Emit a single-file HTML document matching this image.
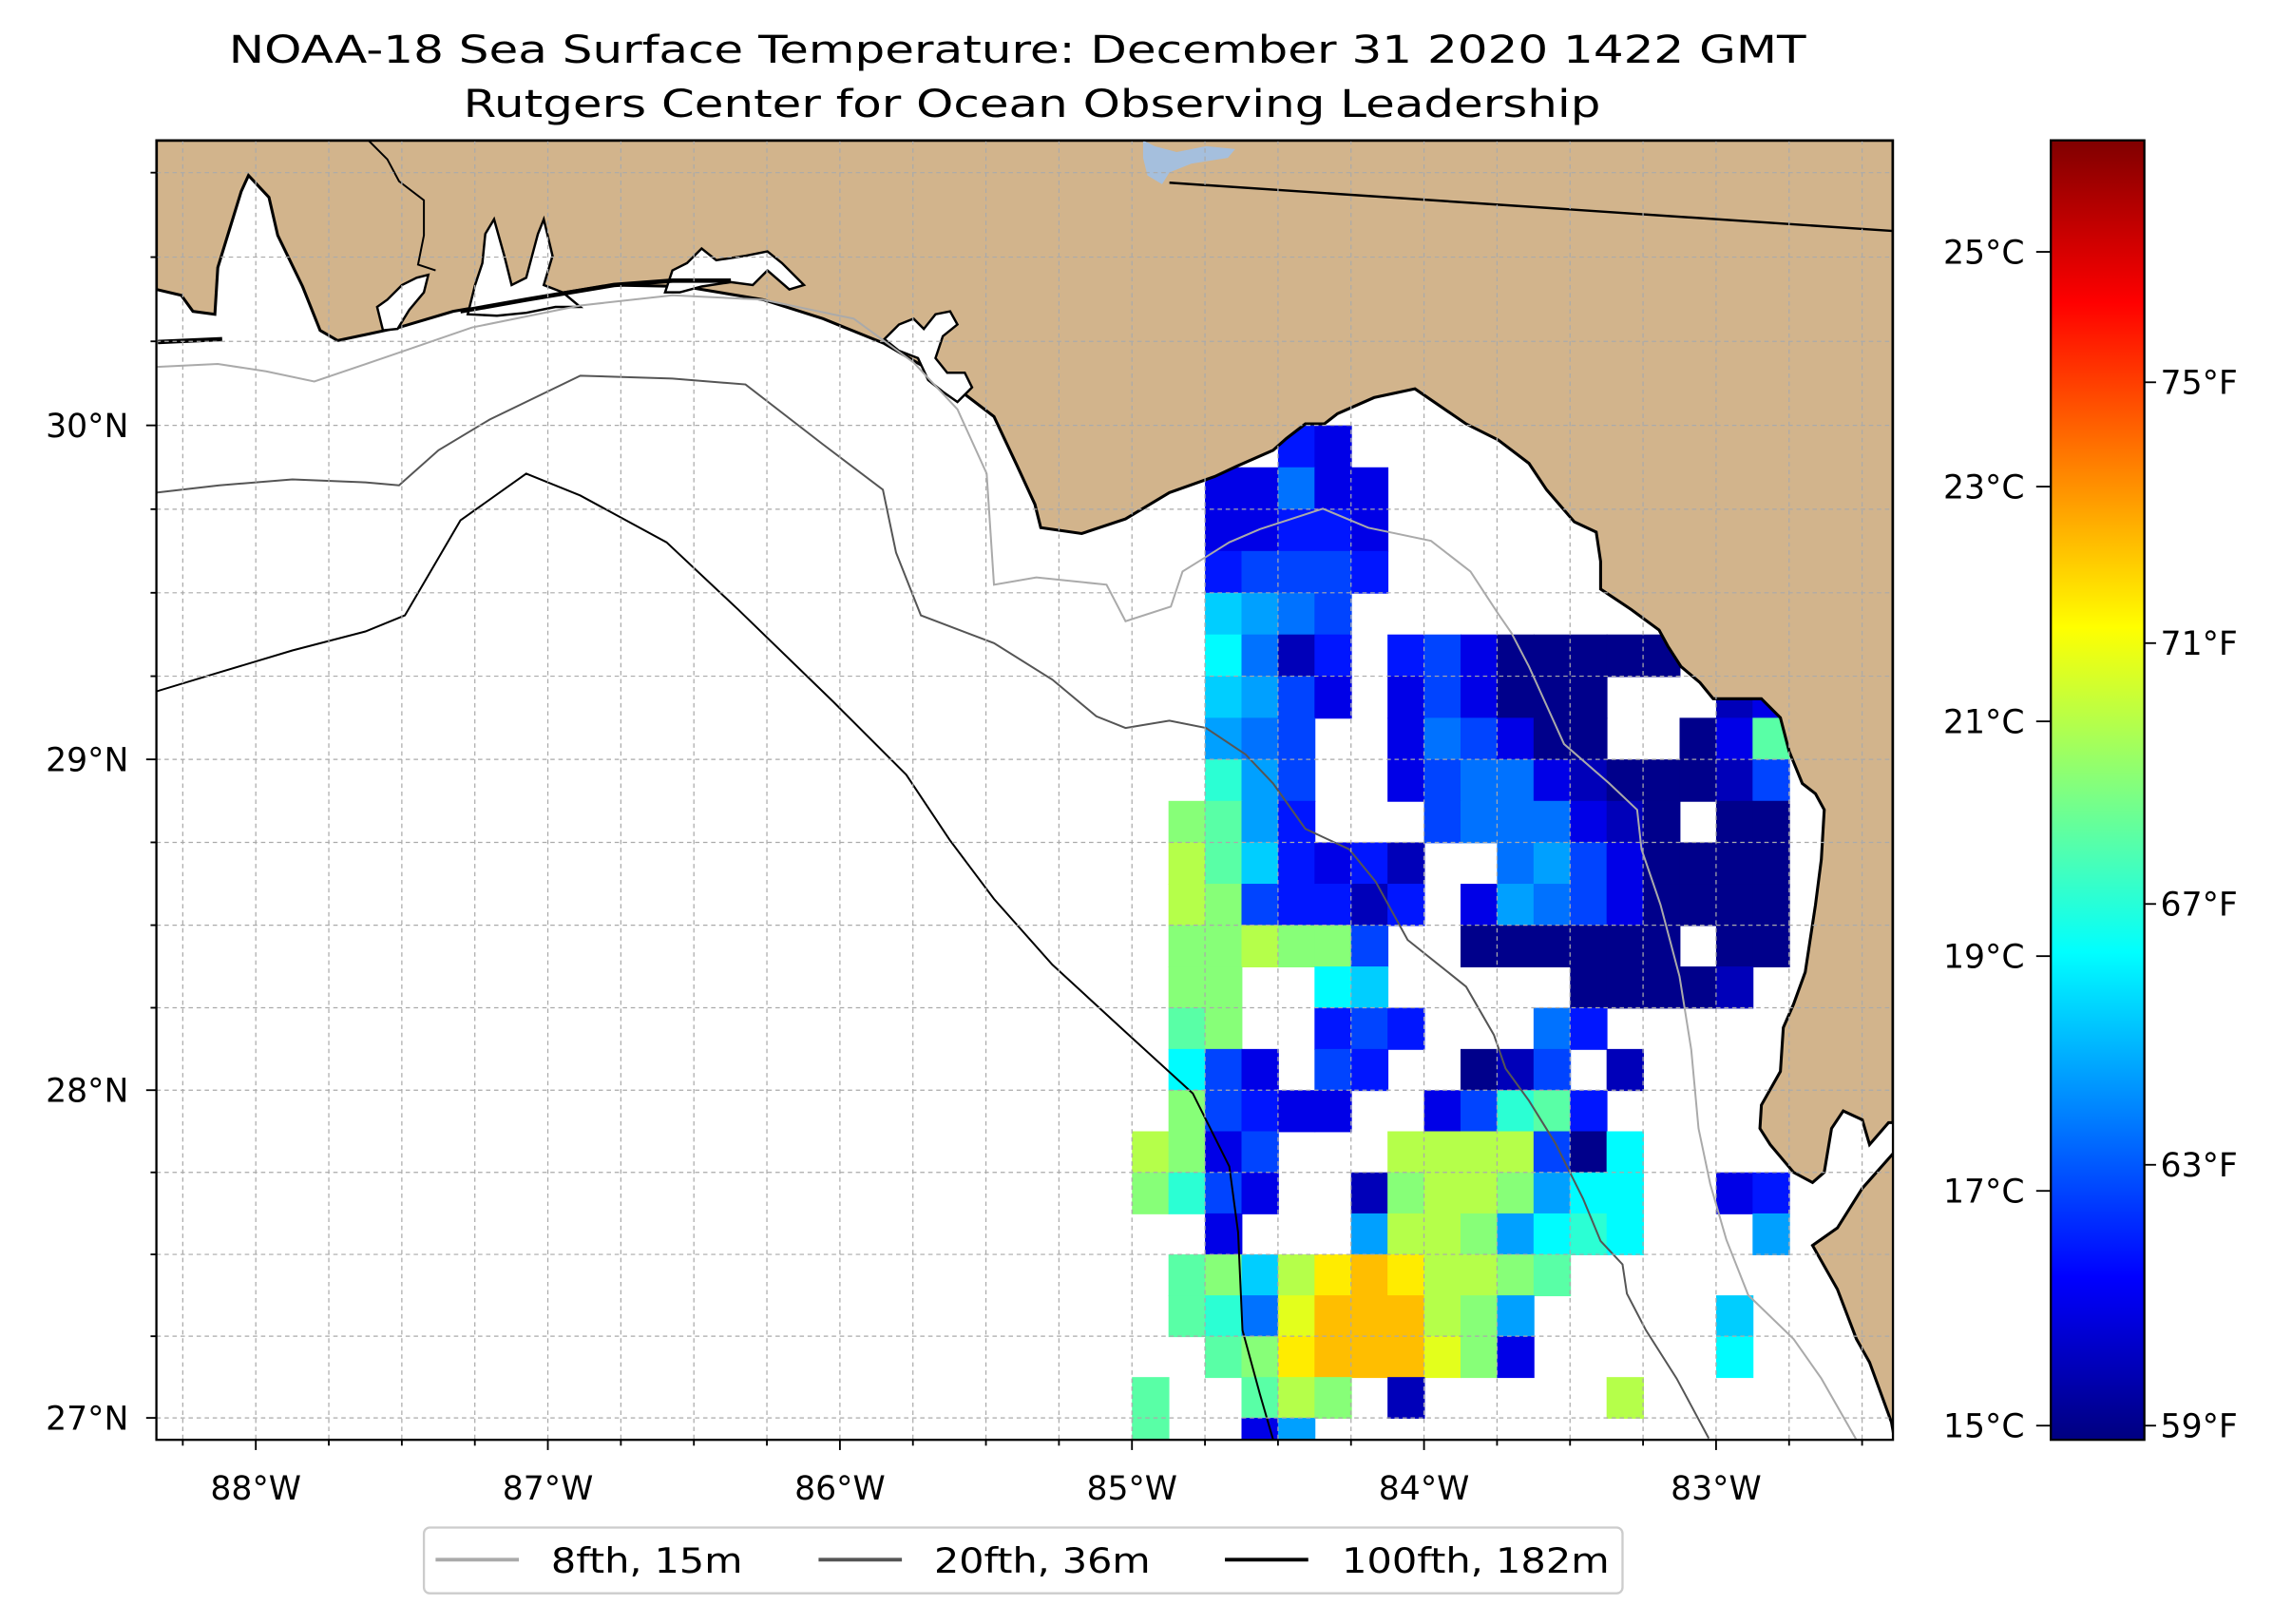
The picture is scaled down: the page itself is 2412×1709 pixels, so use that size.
<!DOCTYPE html>
<html><head><meta charset="utf-8"><title>NOAA-18 SST</title>
<style>html,body{margin:0;padding:0;background:#fff}svg{display:block}text{font-family:"DejaVu Sans","Liberation Sans",sans-serif;fill:#000}</style>
</head><body>
<svg id="fig" xmlns="http://www.w3.org/2000/svg" width="2412" height="1709" viewBox="0 0 1568 1111" preserveAspectRatio="none">
<defs>
<clipPath id="plotclip"><rect x="107" y="96" width="1188" height="889"/></clipPath>
<linearGradient id="jetgrad" x1="0" y1="1" x2="0" y2="0"></linearGradient>
</defs>
<rect x="0" y="0" width="1568" height="1111" fill="#fff"/>
<text x="696" y="43" text-anchor="middle" font-size="26" textLength="1079" lengthAdjust="spacingAndGlyphs">NOAA-18 Sea Surface Temperature: December 31 2020 1422 GMT</text>
<text x="706" y="80" text-anchor="middle" font-size="26" textLength="778" lengthAdjust="spacingAndGlyphs">Rutgers Center for Ocean Observing Leadership</text>
<g clip-path="url(#plotclip)">
<g id="sst"></g>
<path fill="#d2b48c" stroke="#000" stroke-width="2" d="M107,96 L1295,96 L1295,768 L1292,768 L1279,783 L1274,766 L1261,760 L1253,772 L1248,802 L1240,809 L1227,802 L1211,783 L1204,772 L1205,756 L1218,733 L1220,703 L1227,687 L1235,665 L1242,619 L1246,588 L1248,554 L1242,543 L1233,536 L1224,514 L1218,491 L1205,478 L1172,478 L1163,467 L1150,456 L1141,442 L1135,431 L1116,417 L1095,403 L1095,384 L1092,364 L1077,357 L1058,335 L1046,317 L1025,301 L1003,290 L968,266 L940,272 L915,283 L906,290 L893,290 L880,300 L871,308 L846,319 L831,326 L800,337 L770,355 L740,365 L712,361 L708,345 L696,319 L680,285 L646,259 L605,235 L563,218 L522,205 L468,196 L418,195 L356,205 L310,213 L273,224 L231,233 L219,226 L207,196 L190,161 L184,135 L170,120 L165,131 L157,157 L149,183 L147,215 L132,213 L124,202 L107,198 Z"/>
<path fill="#d2b48c" stroke="#000" stroke-width="2" d="M1297,787 L1274,813 L1257,840 L1240,852 L1257,882 L1270,916 L1279,932 L1294,973 L1297,990 Z"/>
<g fill="#fff" stroke="#000" stroke-width="1.6">
<path d="M262,226 L258,210 L265,205 L275,195 L285,190 L293,188 L290,200 L280,212 L272,225 Z"/>
<path d="M320,215 L325,195 L330,180 L332,160 L338,150 L345,175 L350,195 L360,190 L368,160 L372,150 L378,175 L372,195 L385,200 L397,210 L380,210 L360,214 L340,216 Z"/>
<path d="M455,200 L460,185 L470,180 L480,170 L490,178 L510,175 L525,172 L535,180 L550,195 L540,198 L525,185 L515,195 L500,193 L480,196 L465,200 Z"/>
<path d="M605,232 L615,222 L625,218 L632,225 L640,215 L650,213 L655,222 L645,230 L640,245 L648,255 L660,255 L665,265 L655,275 L645,268 L635,260 L628,245 L615,240 Z"/>
</g>
<polyline fill="none" stroke="#000" stroke-width="3" points="315,213 360,205 420,195 460,192 500,192"/>
<polyline fill="none" stroke="#000" stroke-width="3" points="108,234 152,232"/>
<path fill="#a5bfdd" d="M782,96 L790,100 L805,104 L825,100 L845,102 L840,108 L815,112 L800,118 L795,126 L785,120 L782,108 Z"/>
<polyline fill="none" stroke="#000" stroke-width="1.6" points="800,125 1295,158"/>
<polyline fill="none" stroke="#000" stroke-width="1.3" points="252,96 265,109 273,124 290,137 290,161 286,181 298,185"/>
<polyline fill="none" stroke="#aaaaaa" stroke-width="1.3" points="107,251 149,249 182,254 215,261 265,244 323,224 397,209 460,202 522,205 584,218 625,248 655,280 675,324 680,400 709,395 757,400 770,425 801,415 809,391 841,371 862,362 905,348 936,361 979,370 1006,391 1025,420 1034,433 1046,456 1070,509 1101,536 1120,554 1123,581 1136,619 1149,668 1157,718 1162,772 1170,810 1181,848 1196,886 1227,916 1246,943 1270,985"/>
<polyline fill="none" stroke="#555555" stroke-width="1.3" points="107,337 150,332 200,328 250,330 273,332 300,308 335,287 397,257 460,259 510,263 563,304 604,335 613,378 630,421 680,440 720,465 750,490 770,498 800,493 825,498 852,516 871,536 893,567 923,581 941,603 963,643 1003,675 1022,708 1030,731 1046,753 1064,782 1083,820 1095,849 1110,865 1113,885 1126,910 1147,943 1169,984"/>
<polyline fill="none" stroke="#000000" stroke-width="1.3" points="107,473 150,460 200,445 250,432 277,421 315,356 360,324 397,339 456,371 505,417 570,480 620,530 650,575 680,615 720,660 770,706 816,748 841,798 847,843 850,910 862,954 871,985"/>
<g id="grid"></g>
</g>
<rect x="107" y="96" width="1188" height="889" fill="none" stroke="#000" stroke-width="1.5"/>
<g id="axes"></g>
<rect id="cbar" x="1403" y="96" width="64" height="889" fill="url(#jetgrad)" stroke="#000" stroke-width="1.5"/>
<g id="cbaxes"></g>
<g>
<rect x="290" y="1045" width="820" height="45" rx="4" fill="#fff" stroke="#cccccc" stroke-width="1.5"/>
<line x1="298" y1="1067" x2="355" y2="1067" stroke="#aaaaaa" stroke-width="2.5"/>
<text x="377" y="1076" font-size="24" textLength="131" lengthAdjust="spacingAndGlyphs">8fth, 15m</text>
<line x1="560" y1="1067" x2="617" y2="1067" stroke="#555555" stroke-width="2.5"/>
<text x="639" y="1076" font-size="24" textLength="148" lengthAdjust="spacingAndGlyphs">20fth, 36m</text>
<line x1="838" y1="1067" x2="895" y2="1067" stroke="#000000" stroke-width="2.5"/>
<text x="918" y="1076" font-size="24" textLength="183" lengthAdjust="spacingAndGlyphs">100fth, 182m</text>
</g>
</svg>
<script>
// ---- data ----
const lonTicks = [-88, -87, -86, -85, -84, -83];
const lonTickLabels = ["88°W", "87°W", "86°W", "85°W", "84°W", "83°W"];
const latTicks = [27, 28, 29, 30];
const latTickLabels = ["27°N", "28°N", "29°N", "30°N"];
const cbarCTicks = [15, 17, 19, 21, 23, 25];
const cbarFTicks = [59, 63, 67, 71, 75];
const cellLonWest = -85.0;
const cellLatNorth = 30.0;
const cellStep = 0.125;
// sst codes: 'a'=15.0C, each letter +0.5C; '.' = no data
const sstRows = [
"....dc.............",
"..ccfcc............",
"..ccddc............",
"..deeed............",
"..hgfe.............",
"..ifbd.decaaaaa....",
"..hgec.cecaaa...bc.",
"..gfe..cfecaa..ack.",
"..jge..ceffcbaaabe.",
".lkgd...efffcba.aa.",
".mkhdcdb..fgecaaaa.",
".mleddbd.cgfecaaaa.",
".llmlle..aaaaaa.aa.",
".ll..ih.....aaaab..",
".kl..ded...fd......",
".iec.ed..abe.b.....",
".ledcc..cejkd......",
"mlce...mmmmeai.....",
"ljec..blmmlgii..cd.",
"..c...gmmlgiji...g.",
".klhmopommlk.......",
".kjfnpppmlg.....h..",
"..klopppnlc.....i..",
"k..kml.b.....m.....",
"k..cg.............."
];
const vmin = 14.88, vmax = 25.95;

// ---- axes ----
const NS = "http://www.w3.org/2000/svg";
function merc(lat){ const r = lat*Math.PI/180; return Math.log(Math.tan(Math.PI/4 + r/2)); }
const K = (970 - 291) / (merc(30) - merc(27));
function X(lon){ return 175 + (lon + 88) * 199.8; }
function Y(lat){ return 291 - (merc(lat) - merc(30)) * K; }
function CY(t){ return 975.3 - (t - 15) * 80.3; }
function jet(v){
  const x = Math.max(0, Math.min(1, v));
  const f = t => Math.max(0, Math.min(1, t));
  const r = f(1.5 - Math.abs(4*x - 3)), g = f(1.5 - Math.abs(4*x - 2)), b = f(1.5 - Math.abs(4*x - 1));
  return "rgb(" + Math.round(r*255) + "," + Math.round(g*255) + "," + Math.round(b*255) + ")";
}
function mk(tag, attrs, parent){
  const e = document.createElementNS(NS, tag);
  for (const k in attrs) e.setAttribute(k, attrs[k]);
  parent.appendChild(e);
  return e;
}

// sst cells
const sstG = document.getElementById("sst");
sstRows.forEach((row, r) => {
  for (let c = 0; c < row.length; c++) {
    const ch = row[c];
    if (ch === ".") continue;
    const t = 15 + 0.5 * (ch.charCodeAt(0) - 97);
    const lw = cellLonWest + c * cellStep, ln = cellLatNorth - r * cellStep;
    const x0 = X(lw), x1 = X(lw + cellStep), y0 = Y(ln), y1 = Y(ln - cellStep);
    const rc = mk("rect", {x: x0.toFixed(2), y: y0.toFixed(2), width: (x1 - x0 + 0.6).toFixed(2), height: (y1 - y0 + 0.6).toFixed(2), fill: jet((t - vmin) / (vmax - vmin))}, sstG);
    
    
  }
});

// gridlines
const gridG = document.getElementById("grid");
for (let lon = -88.25; lon <= -82.45; lon += 0.25) {
  const gl = mk("line", {x1: X(lon), y1: 96, x2: X(lon), y2: 985, stroke: "#aaaaaa", "stroke-width": 0.8, "stroke-dasharray": "3,2.5"}, gridG);
  
  
}
for (let lat = 27.0; lat <= 30.8; lat += 0.25) {
  const gl = mk("line", {x1: 107, y1: Y(lat), x2: 1295, y2: Y(lat), stroke: "#aaaaaa", "stroke-width": 0.8, "stroke-dasharray": "3,2.5"}, gridG);
  
  
}

// ticks
const axG = document.getElementById("axes");
for (let lon = -88.25; lon <= -82.45; lon += 0.25) {
  const major = Math.abs(lon - Math.round(lon)) < 1e-6;
  const tk = mk("line", {x1: X(lon), y1: 985, x2: X(lon), y2: 985 + (major ? 7 : 4), stroke: "#000", "stroke-width": 1.2}, axG);
  
  
}
for (let lat = 27.0; lat <= 30.8; lat += 0.25) {
  const major = Math.abs(lat - Math.round(lat)) < 1e-6;
  const tk = mk("line", {x1: 107, y1: Y(lat), x2: 107 - (major ? 7 : 4), y2: Y(lat), stroke: "#000", "stroke-width": 1.2}, axG);
  
  
}
lonTicks.forEach((lon, i) => {
  const t = mk("text", {x: X(lon), y: 1026, "text-anchor": "middle", "font-size": 22.5}, axG);
  t.textContent = lonTickLabels[i];
  
  
});
latTicks.forEach((lat, i) => {
  const t = mk("text", {x: 88, y: Y(lat) + 8, "text-anchor": "end", "font-size": 22.5}, axG);
  t.textContent = latTickLabels[i];
  
  
});

// colorbar gradient
const grad = document.getElementById("jetgrad");
for (let i = 0; i <= 40; i++) {
  const s = mk("stop", {offset: (i/40), "stop-color": jet(i/40)}, grad);
}
const cbG = document.getElementById("cbaxes");
cbarCTicks.forEach(t => {
  const y = CY(t);
  const tk = mk("line", {x1: 1393, y1: y, x2: 1403, y2: y, stroke: "#000", "stroke-width": 1.2}, cbG);
  
  
  const lb = mk("text", {x: 1385, y: y + 8, "text-anchor": "end", "font-size": 22.5}, cbG);
  lb.textContent = t + "°C";
  
  
});
cbarFTicks.forEach(f => {
  const y = CY((f - 32) * 5 / 9);
  const tk = mk("line", {x1: 1467, y1: y, x2: 1475, y2: y, stroke: "#000", "stroke-width": 1.2}, cbG);
  
  
  const lb = mk("text", {x: 1478, y: y + 8, "text-anchor": "start", "font-size": 22.5}, cbG);
  lb.textContent = f + "°F";
  
  
});
</script>
</body></html>
